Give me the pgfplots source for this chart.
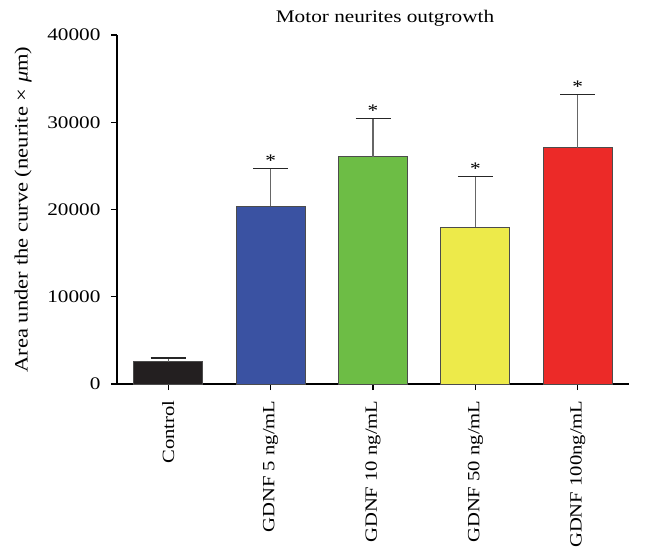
\documentclass[border=0pt]{standalone}
\usepackage{fontspec}
\setmainfont{Liberation Serif}[FakeStretch=1.2]
\usepackage{pgfplots}
\pgfplotsset{compat=1.18}

\definecolor{cctrl}{HTML}{231F20}
\definecolor{cfive}{HTML}{3A52A2}
\definecolor{cten}{HTML}{6DBD45}
\definecolor{cfifty}{HTML}{EDEA4A}
\definecolor{chund}{HTML}{EC2A28}

\pgfplotsset{
  gbar/.style={ybar, bar width=0.675, bar shift=0pt, fill=#1,
    draw=black!70, line width=1bp,
    error bars/.cd, y dir=plus, y explicit,
    error bar style={line width=1.2bp, black!60},
    error mark options={rotate=90, mark size=17.5bp, line width=1.6bp, black!85}},
}

\begin{document}
\begin{tikzpicture}[font=\fontsize{17.7bp}{21bp}\selectfont]
\path[use as bounding box] (-117bp,-164bp) rectangle (541bp,384bp);
\begin{axis}[
  at={(0,0)}, anchor=south west,
  width=512bp, height=349bp, scale only axis,
  xmin=-0.5, xmax=4.5, ymin=0, ymax=40000,
  axis x line*=bottom, axis y line*=left,
  axis line style={line width=1.3bp, black},
  xtick={0,1,2,3,4},
  xticklabels={Control, GDNF 5 ng/mL, GDNF 10 ng/mL, GDNF 50 ng/mL, GDNF 100ng/mL},
  xticklabel style={rotate=90, anchor=east, xshift=-7bp,
    font=\fontsize{17.2bp}{20bp}\selectfont},
  ytick={0,10000,20000,30000,40000},
  scaled y ticks=false,
  yticklabel style={/pgf/number format/1000 sep={}, xshift=-7bp},
  /pgf/number format/assume math mode=true,
  tick align=outside, major tick length=6bp,
  tick style={line width=1.3bp, black},
  clip=false,
  title={Motor neurites outgrowth},
  title style={at={(axis description cs:0.5,1)}, anchor=center, yshift=11bp, xshift=12bp},
  ylabel={Area under the curve (neurite × \textit{μ}m)},
  ylabel style={at={(axis description cs:0,0.5)}, anchor=center, rotate=0,
    yshift=94bp, font=\fontsize{18.8bp}{22bp}\selectfont},
]
\addplot[gbar=cctrl]  coordinates {(0,2550)  +- (0,400)};
\addplot[gbar=cfive]  coordinates {(1,20350) +- (0,4370)};
\addplot[gbar=cten]   coordinates {(2,26050) +- (0,4370)};
\addplot[gbar=cfifty] coordinates {(3,17950) +- (0,5850)};
\addplot[gbar=chund]  coordinates {(4,27050) +- (0,6150)};
% significance stars above the upper error caps
\addplot[only marks, mark=none, nodes near coords={*},
  every node near coord/.append style={anchor=center, yshift=8bp, black}]
  coordinates {(1,24720) (2,30420) (3,23800) (4,33200)};
\end{axis}
\end{tikzpicture}
\end{document}
